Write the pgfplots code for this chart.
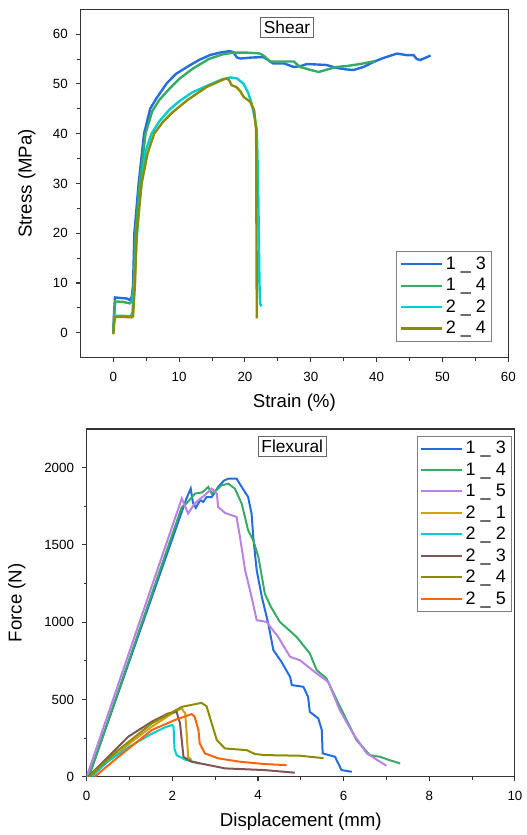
\documentclass[border=0pt]{standalone}
\usepackage{fontspec}
\setmainfont{Liberation Sans}
\usepackage{pgfplots}
\pgfplotsset{compat=1.18}

\definecolor{c13}{RGB}{35,110,220}
\definecolor{c14}{RGB}{55,170,100}
\definecolor{c15}{RGB}{185,130,230}
\definecolor{c21}{RGB}{210,160,10}
\definecolor{c22}{RGB}{0,205,210}
\definecolor{c23}{RGB}{130,85,85}
\definecolor{c24}{RGB}{140,140,0}
\definecolor{c25}{RGB}{255,100,10}

\pgfplotsset{
  originstyle/.style={
    scale only axis,
    anchor=south west,
    axis line style={draw=black!80, line width=0.8pt},
    tick style={draw=black!80, line width=0.8pt},
    tick align=outside,
    tick pos=left,
    major tick length=3.5pt,
    minor tick length=2.2pt,
    minor x tick num=1,
    minor y tick num=1,
    /pgf/number format/assume math mode=true,
    /pgf/number format/1000 sep={},
    ticklabel style={font=\fontsize{10}{12}\selectfont},
    xticklabel shift=3.5pt,
    yticklabel shift=2.5pt,
    label style={font=\fontsize{14}{16}\selectfont},
    legend cell align=left,
    legend style={draw=black!50, line width=0.6pt, fill=white,
      font=\fontsize{13.5}{15}\selectfont, row sep=1.2pt, inner sep=2pt},
    legend image code/.code={\draw[##1] (0pt,0pt) -- (31pt,0pt);},
  },
}

\begin{document}
\begin{tikzpicture}
\path[use as bounding box] (0pt,0pt) rectangle (395.25pt,626.25pt);

% Shear
\begin{axis}[originstyle,
  at={(60.3pt,358pt)}, width=320.9pt, height=261.3pt,
  xmin=-5, xmax=60, ymin=-5, ymax=65,
  xtick={0,10,...,60}, ytick={0,10,...,60},
  xlabel={Strain (\%)}, ylabel={Stress (MPa)},
  xlabel style={at={(axis description cs:0.5,-0.129)}, anchor=center},
  ylabel style={at={(axis description cs:-0.1255,0.5)}, anchor=center},
  legend style={at={(0.961,0.046)}, anchor=south east},
  every axis plot/.append style={line width=1.8pt},
]
\addplot[c13] coordinates {
(0,0)(0.1,3.5)(0.25,7.1)(1,7.0)(2,6.9)(2.5,6.6)(2.8,7.2)(3.0,9.5)(3.2,20)(3.85,30)(4.67,40)
(5.6,45)(6.5,47)(8.1,50.1)(9.5,52)(11.2,53.4)(13,54.8)(14.7,55.8)(16.2,56.3)(17.7,56.6)
(18.2,56.4)(18.8,55.3)(19.3,55.1)(21,55.3)(22.8,55.4)(23.5,54.8)(24.3,54.1)(26,54.1)
(27.4,53.4)(28.5,53.6)(29.4,54.0)(31,53.9)(32.4,53.8)(34,53.2)(35.5,52.9)(36.5,52.8)
(38,53.4)(39.5,54.4)(41,55.2)(43.1,56.1)(44.5,55.8)(45.6,55.8)(46.1,55.0)(46.6,54.8)
(47.5,55.3)(48.2,55.7)};
\addplot[c14] coordinates {
(0,0)(0.1,3)(0.3,6.3)(1.5,6.2)(2.5,5.9)(2.8,6.3)(3.1,10)(3.4,20)(4.0,30)(4.9,40)
(5.9,44.5)(7,46.8)(8.5,49)(10,51)(12,53)(14.5,55)(16.5,55.9)(18.2,56.3)(20,56.3)
(21.5,56.2)(22.3,56.1)(23.0,55.5)(23.8,54.5)(25,54.5)(27.4,54.5)(28.4,53.4)(30,52.8)
(31.2,52.4)(32.5,52.9)(33.9,53.4)(35.5,53.6)(37.5,54.0)(39.8,54.6)};
\addplot[c22] coordinates {
(0,0)(0.1,2)(0.3,3.4)(1.5,3.4)(2.6,3.3)(2.9,4)(3.2,10)(3.5,18)(4.1,28)(4.9,36.5)
(5.8,40)(7,42.5)(8.5,44.8)(10,46.5)(12,48.3)(14.2,49.6)(16.5,50.9)(17.8,51.3)(18.8,51.1)
(19.8,50)(20.5,48.2)(21.0,46.1)(21.5,43)(21.8,40.7)(22.0,30)(22.1,20)(22.2,10)(22.3,5.9)(22.5,5.3)};
\addplot[c24] coordinates {
(0,-0.3)(0.1,1.5)(0.25,3.2)(1.5,3.2)(2.8,3.1)(3.0,3.3)(3.3,10)(3.55,20)(4.3,30)(5.2,36)
(6.2,40)(7.5,42.3)(9,44.3)(11.2,46.7)(14.2,49.4)(16.7,50.9)(17.3,51.1)(17.6,50.7)(18.0,49.7)
(18.7,49.4)(19.3,48.5)(19.8,47.4)(20.8,46.4)(21.4,44.7)(21.6,42)(21.7,40.7)(21.75,20)(21.8,2.9)};
\legend{1 \_ 3, 1 \_ 4, 2 \_ 2, 2 \_ 4}
\node[draw=black!60, line width=0.6pt, fill=white, inner sep=2.5pt,
  font=\fontsize{13}{15}\selectfont] at (rel axis cs:0.483,0.948) {Shear};
\end{axis}

% Flexural
\begin{axis}[originstyle,
  at={(65pt,43.7pt)}, width=321.2pt, height=260.8pt,
  xmin=0, xmax=10, ymin=0, ymax=2250,
  xtick={0,2,...,10}, ytick={0,500,...,2000},
  xlabel={Displacement (mm)}, ylabel={Force (N)},
  xlabel style={at={(axis description cs:0.5,-0.129)}, anchor=center},
  ylabel style={at={(axis description cs:-0.1634,0.5)}, anchor=center},
  legend style={at={(0.992,0.981)}, anchor=north east},
  every axis plot/.append style={line width=1.5pt},
]
\addplot[c13] coordinates {
(0.05,0)(2.33,1800)(2.43,1865)(2.48,1775)(2.55,1740)(2.65,1790)(2.72,1778)(2.8,1810)
(2.92,1810)(3.07,1875)(3.2,1915)(3.31,1929)(3.5,1929)(3.62,1875)(3.77,1810)(3.85,1703)
(3.89,1551)(3.97,1336)(4.09,1164)(4.24,991)(4.36,819)(4.55,743)(4.75,646)(4.79,593)
(5.06,582)(5.17,517)(5.21,420)(5.41,377)(5.49,302)(5.51,151)(5.80,129)(5.95,43)(6.19,32)};
\addplot[c14] coordinates {
(0.05,0)(2.22,1745)(2.3,1760)(2.4,1790)(2.53,1832)(2.7,1840)(2.84,1875)(2.92,1832)
(3.05,1860)(3.15,1886)(3.31,1896)(3.46,1864)(3.62,1767)(3.77,1595)(3.89,1530)(4.01,1422)
(4.16,1185)(4.3,1100)(4.51,1002)(4.90,905)(5.21,798)(5.37,690)(5.60,636)(5.84,496)
(6.07,367)(6.30,237)(6.61,140)(6.85,129)(7.1,105)(7.32,86)};
\addplot[c15] coordinates {
(0,0)(2.22,1800)(2.3,1750)(2.37,1703)(2.5,1760)(2.61,1789)(2.75,1820)(2.92,1864)
(3.04,1832)(3.07,1745)(3.23,1707)(3.5,1681)(3.58,1551)(3.70,1336)(3.85,1164)(3.97,1013)
(4.20,1002)(4.47,905)(4.75,776)(4.98,754)(5.37,668)(5.64,614)(5.91,431)(6.22,280)
(6.54,151)(6.85,97)(7.0,71)};
\addplot[c21] coordinates {
(0.05,0)(0.5,100)(1.0,215)(1.5,320)(2.0,410)(2.22,442)(2.30,410)(2.33,302)(2.37,129)(2.45,108)};
\addplot[c22] coordinates {
(0.12,0)(0.5,100)(1.0,195)(1.5,275)(1.83,320)(2.0,335)(2.03,320)(2.05,180)(2.1,140)(2.3,110)(2.65,86)};
\addplot[c23] coordinates {
(0.04,0)(0.43,108)(0.97,259)(1.52,356)(1.91,410)(2.10,420)(2.18,345)(2.26,129)(2.45,97)
(2.84,76)(3.23,54)(4.16,43)(4.86,26)};
\addplot[c24] coordinates {
(0.05,0)(0.74,173)(1.52,345)(2.22,452)(2.68,478)(2.80,456)(2.92,345)(3.04,237)(3.23,183)
(3.74,172)(3.93,147)(4.16,140)(4.98,136)(5.53,120)};
\addplot[c25] coordinates {
(0.19,0)(0.74,129)(1.52,302)(2.06,367)(2.45,405)(2.52,390)(2.61,302)(2.64,216)(2.76,151)
(3.07,119)(3.58,97)(4.16,82)(4.67,75)};
\legend{1 \_ 3, 1 \_ 4, 1 \_ 5, 2 \_ 1, 2 \_ 2, 2 \_ 3, 2 \_ 4, 2 \_ 5}
\node[draw=black!60, line width=0.6pt, fill=white, inner sep=2.5pt,
  font=\fontsize{13}{15}\selectfont] at (rel axis cs:0.480,0.950) {Flexural};
\end{axis}
\end{tikzpicture}
\end{document}
